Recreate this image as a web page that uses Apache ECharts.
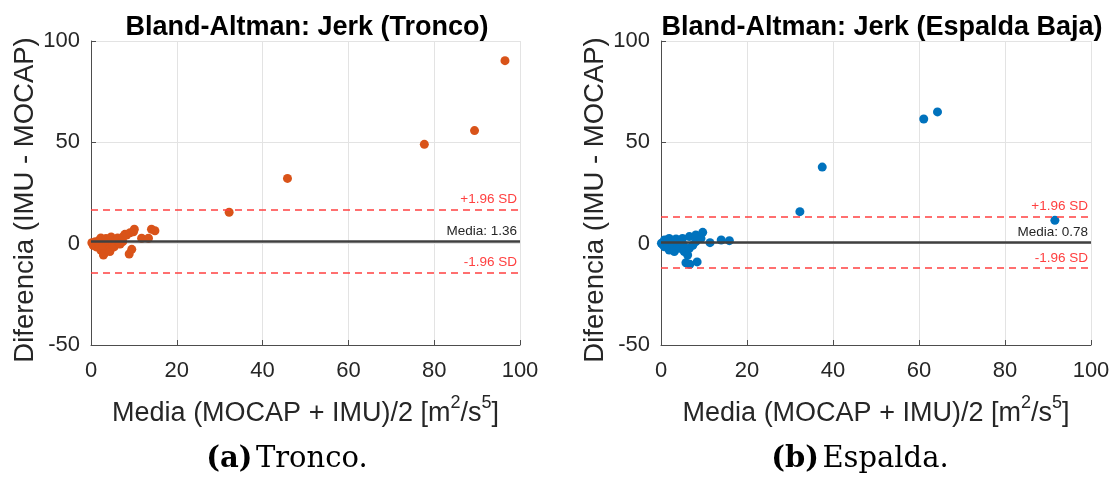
<!DOCTYPE html>
<html>
<head>
<meta charset="utf-8">
<script src="https://cdn.jsdelivr.net/npm/echarts@6/dist/echarts.min.js"></script>
<style>
  html, body { margin: 0; padding: 0; background: #ffffff; }
  #chart { width: 1116px; height: 477px; }
</style>
</head>
<body>
<div id="chart"></div>
<script>
// Tronco: mean of both methods (x) and difference IMU - MOCAP (y)
const troncoX = [0.2, 0.5, 1.0, 1.2, 1.5, 1.9, 2.0, 2.3, 2.3, 2.8, 2.9, 3.1, 3.5, 3.6, 4.1, 4.3, 4.4, 4.7, 5.0, 5.4,
                 5.8, 6.2, 6.6, 6.8, 7.4, 7.5, 7.9, 8.3, 8.9, 9.1, 9.5, 9.9, 10.1, 11.8, 13.4, 14.1, 14.9,
                 32.2, 45.8, 77.7, 89.4, 96.5];
const troncoY = [0.5, -0.8, 1.0, -1.6, 0.2, -0.2, 1.8, 2.8, -3.3, -1.2, -5.6, -4.8, 2.5, 0.5, 0.8, -2.4, -3.9, 3.3, -0.5, -1.6,
                 1.7, 2.8, 0.0, -0.2, 1.0, 3.5, 4.6, 4.3, -5.1, 5.4, -2.8, 5.9, 7.1, 2.7, 2.7, 7.1, 6.4,
                 15.5, 32.2, 49.0, 55.8, 90.3];
const troncoMedia = 1.36;
const troncoSup = 16.9;
const troncoInf = -14.2;

// Espalda baja
const espaldaX = [0.1, 0.4, 0.8, 0.8, 1.2, 1.5, 1.9, 1.9, 2.5, 2.8, 3.1, 3.5, 3.6, 4.0, 4.3, 4.6, 5.0, 5.2, 5.4, 5.8,
                  6.2, 6.6, 6.6, 6.7, 7.4, 8.1, 8.1, 8.4, 9.3, 9.7, 11.4, 14.0, 15.9,
                  32.3, 37.5, 61.1, 64.3, 91.6];
const espaldaY = [0.2, -0.5, 1.8, -1.5, 0.5, -0.3, 2.6, -3.1, 1.0, -1.0, -3.9, 2.3, 0.3, -1.5, -2.3, 1.2, 2.6, -0.5, -3.9, -9.4,
                  -5.6, 3.5, -2.3, -10.2, -0.8, 4.3, 1.0, -9.0, 2.6, 5.6, 0.5, 1.8, 1.5,
                  15.8, 37.8, 61.5, 65.0, 11.5];
const espaldaMedia = 0.78;
const espaldaSup = 13.5;
const espaldaInf = -12.0;

const xTicks = { min: 0, max: 100, interval: 20 };
const yTicks = { min: -50, max: 100, interval: 50 };

const titles = ['Bland-Altman: Jerk (Tronco)', 'Bland-Altman: Jerk (Espalda Baja)'];
const yName = 'Diferencia (IMU - MOCAP)';
const captions = [['(a)', 'Tronco.'], ['(b)', 'Espalda.']];

const SANS = '"Liberation Sans", Arial, Helvetica, sans-serif';
const SERIF = '"DejaVu Serif", "Liberation Serif", serif';

const pairs = (xs, ys) => xs.map((x, i) => [x, ys[i]]);

function xAxisFor(gi) {
  return {
    type: 'value', gridIndex: gi,
    min: xTicks.min, max: xTicks.max, interval: xTicks.interval,
    axisLine: { show: true, onZero: false, lineStyle: { color: '#4d4d4d', width: 1 } },
    axisTick: { show: true, inside: true, length: 5, lineStyle: { color: '#4d4d4d' } },
    axisLabel: { fontSize: 22, color: '#262626', margin: 15, fontFamily: SANS },
    splitLine: { show: true, lineStyle: { color: '#e3e3e3', width: 1 } },
    name: '{n|Media (MOCAP + IMU)/2 [m}{s|2}{n|/s}{s|5}{n|]}',
    nameLocation: 'middle', nameGap: 49,
    nameTextStyle: {
      fontFamily: SANS, color: '#262626',
      rich: {
        n: { fontSize: 27, fontFamily: SANS, color: '#262626', lineHeight: 33, verticalAlign: 'bottom' },
        s: { fontSize: 18, fontFamily: SANS, color: '#262626', lineHeight: 33, verticalAlign: 'top' }
      }
    }
  };
}

function yAxisFor(gi) {
  return {
    type: 'value', gridIndex: gi,
    min: yTicks.min, max: yTicks.max, interval: yTicks.interval,
    axisLine: { show: true, onZero: false, lineStyle: { color: '#4d4d4d', width: 1 } },
    axisTick: { show: true, inside: true, length: 5, lineStyle: { color: '#4d4d4d' } },
    axisLabel: { fontSize: 22, color: '#262626', margin: 11, fontFamily: SANS },
    splitLine: { show: true, lineStyle: { color: '#e3e3e3', width: 1 } },
    name: yName, nameLocation: 'middle', nameGap: 51,
    nameTextStyle: { fontSize: 27.5, color: '#262626', fontFamily: SANS, padding: [0, 14, 0, 0] }
  };
}

function limitsSeries(gi, media, sup, inf) {
  const red = '#ff4040';
  const dashed = { color: red, type: [7, 5], width: 1.5 };
  const redLabel = { show: true, position: 'insideEndTop', distance: 3, fontSize: 13.5, color: red, fontFamily: SANS };
  return {
    type: 'line', xAxisIndex: gi, yAxisIndex: gi, data: [], z: 5, silent: true,
    markLine: {
      silent: true, symbol: 'none', animation: false,
      data: [
        { yAxis: sup, lineStyle: dashed, label: Object.assign({}, redLabel, { formatter: '+1.96 SD' }) },
        { yAxis: media, lineStyle: { color: '#404040', type: 'solid', width: 2.5 },
          label: Object.assign({}, redLabel, { color: '#262626', formatter: 'Media: ' + media.toFixed(2) }) },
        { yAxis: inf, lineStyle: dashed, label: Object.assign({}, redLabel, { formatter: '-1.96 SD' }) }
      ]
    }
  };
}

function captionText(i, cx) {
  return {
    type: 'text', x: cx, y: 459,
    style: {
      text: '{b|' + captions[i][0] + '} {r|' + captions[i][1] + '}',
      align: 'center', verticalAlign: 'middle',
      rich: {
        b: { fontSize: 29, fontWeight: 'bold', fontFamily: SERIF, fill: '#000' },
        r: { fontSize: 29, fontFamily: SERIF, fill: '#000' }
      }
    }
  };
}

const chart = echarts.init(document.getElementById('chart'), null, { renderer: 'canvas' });
chart.setOption({
  backgroundColor: '#ffffff',
  animation: false,
  title: [
    { text: titles[0], left: 302, top: 9, textAlign: 'center',
      textStyle: { fontSize: 27, fontWeight: 'bold', color: '#000', fontFamily: SANS } },
    { text: titles[1], left: 877, top: 9, textAlign: 'center',
      textStyle: { fontSize: 27, fontWeight: 'bold', color: '#000', fontFamily: SANS } }
  ],
  grid: [
    { left: 91, top: 41, width: 429, height: 304 },
    { left: 661, top: 41, width: 430, height: 304 }
  ],
  xAxis: [xAxisFor(0), xAxisFor(1)],
  yAxis: [yAxisFor(0), yAxisFor(1)],
  series: [
    { type: 'scatter', xAxisIndex: 0, yAxisIndex: 0, symbolSize: 9, z: 2,
      itemStyle: { color: '#D95319', opacity: 1 }, data: pairs(troncoX, troncoY) },
    { type: 'scatter', xAxisIndex: 1, yAxisIndex: 1, symbolSize: 9, z: 2,
      itemStyle: { color: '#0072BD', opacity: 1 }, data: pairs(espaldaX, espaldaY) },
    limitsSeries(0, troncoMedia, troncoSup, troncoInf),
    limitsSeries(1, espaldaMedia, espaldaSup, espaldaInf)
  ],
  graphic: [captionText(0, 287), captionText(1, 860)]
});
</script>
</body>
</html>
